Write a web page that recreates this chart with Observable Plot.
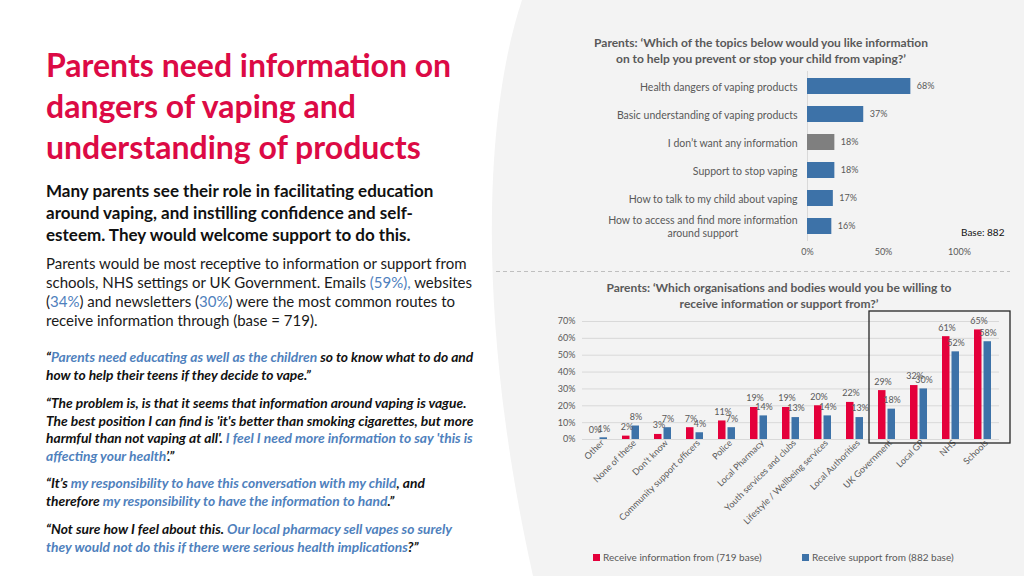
<!DOCTYPE html>
<html><head><meta charset="utf-8">
<script src="https://cdn.jsdelivr.net/npm/d3@7"></script>
<script src="https://cdn.jsdelivr.net/npm/@observablehq/plot@0.6"></script>
<style>
body{margin:0;width:1024px;height:576px;overflow:hidden;background:#fff;font-family:Lato,"Open Sans",sans-serif;position:relative}
.abs{position:absolute;white-space:nowrap}
.title{left:46px;top:44px;font-size:32px;line-height:41px;font-weight:700;color:#dc0a45}
.sub{left:46px;top:180px;font-size:17px;line-height:22px;font-weight:700;color:#111}
.para{left:46px;top:254px;font-size:15px;line-height:19px;color:#1a1a1a}
.q{left:46px;font-size:13.8px;line-height:17.5px;font-weight:700;font-style:italic;color:#111}
.b{color:#4f81bd}
.ctitle{font-size:12px;line-height:16px;font-weight:700;color:#595959;text-align:center}
.leg{font-size:10px;color:#595959;top:551px}
.sw{display:inline-block;width:7px;height:7px;margin-right:3px;vertical-align:0px}
</style></head><body>
<svg class="abs" width="1024" height="576" style="left:0;top:0">
<path d="M522,0 C482,120 478,330 533,576 L1024,576 L1024,0 Z" fill="#f3f3f3"/>
<line x1="496" x2="1010" y1="271.5" y2="271.5" stroke="#bfbfbf" stroke-dasharray="4,3"/>
</svg>
<div class="abs title">Parents need information on<br>dangers of vaping and<br>understanding of products</div>
<div class="abs sub">Many parents see their role in facilitating education<br>around vaping, and instilling confidence and self-<br>esteem. They would welcome support to do this.</div>
<div class="abs para">Parents would be most receptive to information or support from<br>schools, NHS settings or UK Government. Emails <span class="b">(59%),</span> websites<br>(<span class="b">34%</span>) and newsletters (<span class="b">30%</span>) were the most common routes to<br>receive information through (base = 719).</div>
<div class="abs q" style="top:348px">“<span class="b">Parents need educating as well as the children</span> so to know what to do and<br>how to help their teens if they decide to vape.”</div>
<div class="abs q" style="top:394px">“The problem is, is that it seems that information around vaping is vague.<br>The best position I can find is 'it's better than smoking cigarettes, but more<br>harmful than not vaping at all'. <span class="b">I feel I need more information to say 'this is<br>affecting your health</span>’.”</div>
<div class="abs q" style="top:474px">“It’s <span class="b">my responsibility to have this conversation with my child</span>, and<br>therefore <span class="b">my responsibility to have the information to hand</span>.”</div>
<div class="abs q" style="top:520px">“Not sure how I feel about this. <span class="b">Our local pharmacy sell vapes so surely<br>they would not do this if there were serious health implications</span>?”</div>

<div class="abs ctitle" style="left:561px;width:400px;top:35px">Parents: ‘Which of the topics below would you like information<br>on to help you prevent or stop your child from vaping?’</div>
<div class="abs" style="left:961px;top:226px;font-size:10px;color:#111">Base: 882</div>
<div class="abs ctitle" style="left:579px;width:400px;top:280px">Parents: ‘Which organisations and bodies would you be willing to<br>receive information or support from?’</div>
<div class="abs leg" style="left:593px"><span class="sw" style="background:#e4003b"></span>Receive information from (719 base)</div>
<div class="abs leg" style="left:802px"><span class="sw" style="background:#3d72a8"></span>Receive support from (882 base)</div>

<div id="top" class="abs" style="left:580px;top:29px"></div>
<div id="bottom" class="abs" style="left:540px;top:309px"></div>

<script>
// Top chart data
const topics = ["Health dangers of vaping products","Basic understanding of vaping products","I don’t want any information","Support to stop vaping","How to talk to my child about vaping","How to access and find more information\naround support"];
const topicShares = [68, 37, 18, 18, 17, 16];
const topicTicks = [0, 50, 100];

// Bottom chart data
const orgs = ["Other","None of these","Don’t know","Community support officers","Police","Local Pharmacy","Youth services and clubs","Lifestyle / Wellbeing services","Local Authorities","UK Government","Local GP","NHS","Schools"];
const infoShares = [0, 2, 3, 7, 11, 19, 19, 20, 22, 29, 32, 61, 65];
const supportShares = [1, 8, 7, 4, 7, 14, 13, 14, 13, 18, 30, 52, 58];
const orgTicks = [0, 10, 20, 30, 40, 50, 60, 70];
const highlighted = ["UK Government", "Local GP", "NHS", "Schools"];

const BLUE = "#3d72a8", RED = "#e4003b", GREY = "#7f7f7f", TXT = "#595959";

const topData = topics.map((t, i) => ({topic: t, value: topicShares[i]}));
const topPlot = Plot.plot({
  width: 440, height: 244, marginLeft: 227, marginRight: 61, marginTop: 42, marginBottom: 32,
  style: {fontFamily: "Lato", fontSize: "10px", color: TXT, background: "transparent", overflow: "visible"},
  x: {domain: [0, 100]},
  y: {domain: topics, paddingInner: 0.44, paddingOuter: 0.22, axis: null},
  marks: [
    Plot.ruleX([0], {stroke: "#d9d9d9"}),
    Plot.barX(topData, {x: "value", y: "topic", fill: d => d.topic.startsWith("I don") ? GREY : BLUE}),
    Plot.text(topData, {x: "value", y: "topic", text: d => d.value + "%", textAnchor: "start", dx: 6, fontSize: 9, fill: TXT}),
    Plot.text(topData, {y: "topic", text: "topic", frameAnchor: "left", textAnchor: "end", dx: -10, fontSize: 10.5, lineHeight: 1.25, fill: TXT}),
    Plot.axisX({ticks: topicTicks, tickFormat: d => d + "%", tickSize: 0, tickPadding: 7, fontSize: 9, label: null})
  ]
});
document.getElementById("top").appendChild(topPlot);
// center the two-line label within its block
d3.select(topPlot).selectAll("text").each(function() {
  const tsp = this.querySelectorAll("tspan");
  if (tsp.length === 2) {
    const w1 = tsp[0].getComputedTextLength();
    this.setAttribute("text-anchor", "middle");
    tsp.forEach(t => t.setAttribute("x", -w1 / 2));
  }
});

const orgData = orgs.map((o, i) => ({org: o, info: infoShares[i], support: supportShares[i]}));
const bottomPlot = Plot.plot({
  width: 479, height: 240, marginLeft: 42, marginRight: 20, marginTop: 12, marginBottom: 110,
  style: {fontFamily: "Lato", fontSize: "9px", color: TXT, background: "transparent", overflow: "visible"},
  x: {domain: orgs, padding: 0},
  y: {domain: [0, 70]},
  marks: [
    Plot.gridY({ticks: orgTicks, stroke: "#d9d9d9", strokeOpacity: 1}),
    Plot.barY(orgData, {x: "org", y: "info", fill: RED, insetLeft: 7, insetRight: 17.5}),
    Plot.barY(orgData, {x: "org", y: "support", fill: BLUE, insetLeft: 16.5, insetRight: 8}),
    Plot.text(orgData, {x: "org", y: "info", text: d => d.info + "%", dx: -4.5, dy: -9, fontSize: 9, fill: TXT}),
    Plot.text(orgData, {x: "org", y: "support", text: d => d.support + "%", dx: 4.5, dy: -9, fontSize: 9, fill: TXT}),
    Plot.axisY({ticks: orgTicks, tickFormat: d => d + "%", tickSize: 0, tickPadding: 7, label: null}),
    Plot.axisX({tickRotate: -45, tickSize: 0, tickPadding: 2, dx: 3, label: null})
  ]
});
document.getElementById("bottom").appendChild(bottomPlot);
const xs = bottomPlot.scale("x"), ys = bottomPlot.scale("y");
const bx0 = xs.apply(highlighted[0]) - 2;
const bx1 = xs.apply(highlighted[highlighted.length - 1]) + xs.bandwidth + 11;
const by0 = ys.apply(70) - 10, by1 = ys.apply(0) + 4;
d3.select(bottomPlot).append("rect")
  .attr("x", bx0).attr("y", by0).attr("width", bx1 - bx0).attr("height", by1 - by0)
  .attr("fill", "none").attr("stroke", "#262626").attr("stroke-width", 1.3);
</script>
</body></html>
